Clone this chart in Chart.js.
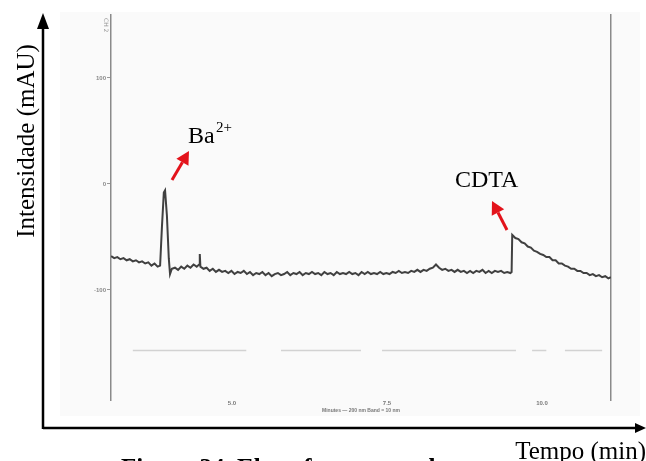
<!DOCTYPE html>
<html>
<head>
<meta charset="utf-8">
<script src="https://cdn.jsdelivr.net/npm/chart.js@4/dist/chart.umd.min.js"></script>
<style>
  body { margin: 0; background: #fff; }
  #wrap { width: 646px; height: 461px; position: relative; }
</style>
</head>
<body>
<div id="wrap"><canvas id="chart"></canvas></div>
<script>
// electropherogram trace, time in min, intensity in mAU
const times = [
  3.05, 3.10, 3.15, 3.20, 3.25, 3.30, 3.35, 3.40, 3.45, 3.50, 3.55, 3.60, 3.65, 3.70, 3.75, 3.80, 3.84,
  3.87, 3.90, 3.92, 3.95, 3.98, 4.00, 4.03, 4.08, 4.13, 4.18, 4.23, 4.28, 4.33, 4.38, 4.43, 4.47, 4.48, 4.49,
  4.54, 4.59, 4.64, 4.69, 4.74, 4.79, 4.84, 4.89, 4.94, 4.99, 5.04, 5.09, 5.14, 5.19, 5.24, 5.29, 5.34,
  5.39, 5.44, 5.49, 5.54, 5.59, 5.64, 5.69, 5.74, 5.79, 5.84, 5.89, 5.94, 5.99, 6.04, 6.09, 6.14, 6.19,
  6.24, 6.29, 6.34, 6.39, 6.44, 6.49, 6.54, 6.59, 6.64, 6.69, 6.74, 6.79, 6.84, 6.89, 6.94, 6.99, 7.04,
  7.09, 7.14, 7.19, 7.24, 7.29, 7.34, 7.39, 7.44, 7.49, 7.54, 7.59, 7.64, 7.69, 7.74, 7.79, 7.84, 7.89,
  7.94, 7.99, 8.04, 8.09, 8.14, 8.19, 8.24, 8.29, 8.34, 8.39, 8.44, 8.49, 8.54, 8.59, 8.64, 8.69, 8.74,
  8.79, 8.84, 8.89, 8.94, 8.99, 9.04, 9.09, 9.14, 9.19, 9.24, 9.29, 9.34, 9.39, 9.44, 9.49, 9.51,
  9.52, 9.57, 9.62, 9.67, 9.72, 9.77, 9.82, 9.87, 9.92, 9.97, 10.02, 10.07, 10.12, 10.17, 10.22, 10.27,
  10.32, 10.37, 10.42, 10.47, 10.52, 10.57, 10.62, 10.67, 10.72, 10.77, 10.82, 10.87, 10.92, 10.97,
  11.02, 11.07, 11.11
];
const intensity = [
  -68, -70, -69, -71, -70, -72, -71, -73, -72, -74, -73, -75, -74, -77, -75, -78, -77,
  -40, -8, -6, -30, -70, -85, -80, -79, -81, -78, -80, -77, -79, -76, -78, -76, -66, -78,
  -80, -79, -82, -80, -83, -81, -83, -82, -84, -82, -85, -83, -84, -82, -85, -83, -86,
  -84, -85, -83, -86, -84, -87, -85, -84, -86, -85, -83, -86, -84, -85, -83, -86, -84,
  -85, -83, -85, -84, -86, -83, -85, -84, -86, -83, -85, -84, -85, -83, -85, -84, -86,
  -83, -85, -83, -85, -84, -85, -83, -85, -84, -85, -83, -84, -82, -84, -83, -84, -82,
  -83, -81, -83, -81, -82, -80, -79, -76, -79, -81, -80, -82, -81, -83, -81, -83, -82,
  -84, -82, -84, -82, -83, -81, -84, -82, -84, -82, -83, -82, -84, -83, -84, -83,
  -48, -51, -52, -55, -56, -59, -60, -63, -64, -66, -67, -69, -69, -72, -72, -75,
  -75, -77, -78, -80, -80, -82, -82, -84, -84, -86, -85, -87, -86, -88,
  -87, -89, -88
];
// faint broken baseline of the second channel at the bottom of the scan
const refTimes = [3.40, 5.23, 5.23, 5.79, 7.08, 7.08, 7.42, 9.58, 9.58, 9.84, 10.07, 10.07, 10.37, 10.97];
const refValues = [-157, -157, null, -157, -157, null, -157, -157, null, -157, -157, null, -157, -157];

const yTicks = [100, 0, -100];
const xTicks = [5.0, 7.5, 10.0];
const xLabels = ['5.0', '7.5', '10.0'];

const serif = '"Liberation Serif", "Times New Roman", serif';

function arrow(ctx, x1, y1, x2, y2, color) {
  const a = Math.atan2(y2 - y1, x2 - x1);
  const len = 13, half = 7;
  const bx = x2 - len * Math.cos(a), by = y2 - len * Math.sin(a);
  ctx.strokeStyle = color;
  ctx.fillStyle = color;
  ctx.lineWidth = 3;
  ctx.beginPath();
  ctx.moveTo(x1, y1);
  ctx.lineTo(bx, by);
  ctx.stroke();
  ctx.beginPath();
  ctx.moveTo(x2, y2);
  ctx.lineTo(bx + half * Math.sin(a), by - half * Math.cos(a));
  ctx.lineTo(bx - half * Math.sin(a), by + half * Math.cos(a));
  ctx.closePath();
  ctx.fill();
}

const paper = {
  id: 'paper',
  beforeDraw(chart) {
    const ctx = chart.ctx;
    ctx.save();
    ctx.fillStyle = '#ffffff';
    ctx.fillRect(0, 0, chart.width, chart.height);
    ctx.fillStyle = '#fafafa';
    ctx.fillRect(60, 12, 580, 404);
    ctx.restore();
  },
  afterDraw(chart) {
    const ctx = chart.ctx;
    ctx.save();
    // outer hand-drawn axes
    ctx.strokeStyle = '#000';
    ctx.fillStyle = '#000';
    ctx.lineWidth = 2.5;
    ctx.beginPath();
    ctx.moveTo(43, 429);
    ctx.lineTo(43, 26);
    ctx.moveTo(43, 428);
    ctx.lineTo(637, 428);
    ctx.stroke();
    ctx.beginPath();
    ctx.moveTo(43, 13);
    ctx.lineTo(37, 29);
    ctx.lineTo(49, 29);
    ctx.closePath();
    ctx.fill();
    ctx.beginPath();
    ctx.moveTo(646, 428);
    ctx.lineTo(635, 423);
    ctx.lineTo(635, 433);
    ctx.closePath();
    ctx.fill();

    // caption, mostly cut off by the bottom edge
    ctx.font = 'bold 25px ' + serif;
    ctx.textAlign = 'left';
    ctx.textBaseline = 'alphabetic';
    ctx.fillText('Figura 34. Eletroferograma de', 121, 476);

    ctx.fillStyle = '#fff';
    ctx.fillRect(505, 436, 141, 25);
    ctx.fillStyle = '#000';
    ctx.font = '25px ' + serif;
    ctx.textAlign = 'right';
    ctx.fillText('Tempo (min)', 646, 459);

    ctx.save();
    ctx.translate(34, 141);
    ctx.rotate(-Math.PI / 2);
    ctx.textAlign = 'center';
    ctx.fillText('Intensidade (mAU)', 0, 0);
    ctx.restore();

    // peak labels
    ctx.textAlign = 'left';
    ctx.font = '24px ' + serif;
    ctx.fillText('Ba', 188, 143);
    ctx.font = '15px ' + serif;
    ctx.fillText('2+', 216, 132);
    ctx.font = '24px ' + serif;
    ctx.fillText('CDTA', 455, 187);

    arrow(ctx, 172, 180, 189, 151, '#e3131b');
    arrow(ctx, 507, 230, 492, 201, '#e3131b');

    // little channel mark in the scan corner
    ctx.save();
    ctx.translate(104, 18);
    ctx.rotate(Math.PI / 2);
    ctx.fillStyle = '#999';
    ctx.font = '6px "DejaVu Sans"';
    ctx.textAlign = 'left';
    ctx.fillText('CH 2', 0, 0);
    ctx.restore();
    ctx.restore();
  }
};

new Chart(document.getElementById('chart'), {
  type: 'line',
  data: {
    datasets: [{
      label: 'trace',
      data: times.map((t, i) => ({ x: t, y: intensity[i] })),
      borderColor: '#404040',
      borderWidth: 2,
      pointRadius: 0,
      tension: 0
    }, {
      label: 'ref',
      data: refTimes.map((t, i) => ({ x: t, y: refValues[i] })),
      borderColor: '#d2d2d2',
      borderWidth: 1.5,
      pointRadius: 0,
      spanGaps: false
    }]
  },
  options: {
    responsive: true,
    maintainAspectRatio: false,
    animation: false,
    layout: { padding: { top: 15, right: 35, bottom: 47, left: 0 } },
    plugins: { legend: { display: false }, tooltip: { enabled: false } },
    scales: {
      x: {
        type: 'linear',
        min: 3.048,
        max: 11.113,
        afterBuildTicks: s => { s.ticks = xTicks.map(v => ({ value: v })); },
        afterFit: s => { s.height = 14; },
        grid: { display: false, drawTicks: false, tickLength: 0 },
        border: { display: false },
        ticks: {
          padding: 0,
          color: '#777',
          font: { size: 6, weight: 'bold' },
          callback: (v) => xLabels[xTicks.indexOf(v)]
        },
        title: {
          display: true,
          text: 'Minutes — 200 nm Band = 10 nm',
          color: '#777',
          font: { size: 5, weight: 'bold' },
          padding: { top: 0, bottom: 0 }
        }
      },
      y: {
        min: -203.8,
        max: 159.4,
        afterBuildTicks: s => { s.ticks = yTicks.map(v => ({ value: v })); },
        afterFit: s => { s.width = 111; },
        grid: { drawOnChartArea: false, drawTicks: true, tickLength: 4, color: '#999' },
        border: { display: true, color: '#8a8a8a', width: 1.5 },
        ticks: { padding: 1, color: '#888', font: { size: 6, weight: 'bold' } }
      },
      y2: {
        position: 'right',
        min: -203.8,
        max: 159.4,
        afterFit: s => { s.width = 0; },
        grid: { drawOnChartArea: false, drawTicks: false },
        border: { display: true, color: '#8a8a8a', width: 1.5 },
        ticks: { display: false }
      }
    }
  },
  plugins: [paper]
});
</script>
</body>
</html>
